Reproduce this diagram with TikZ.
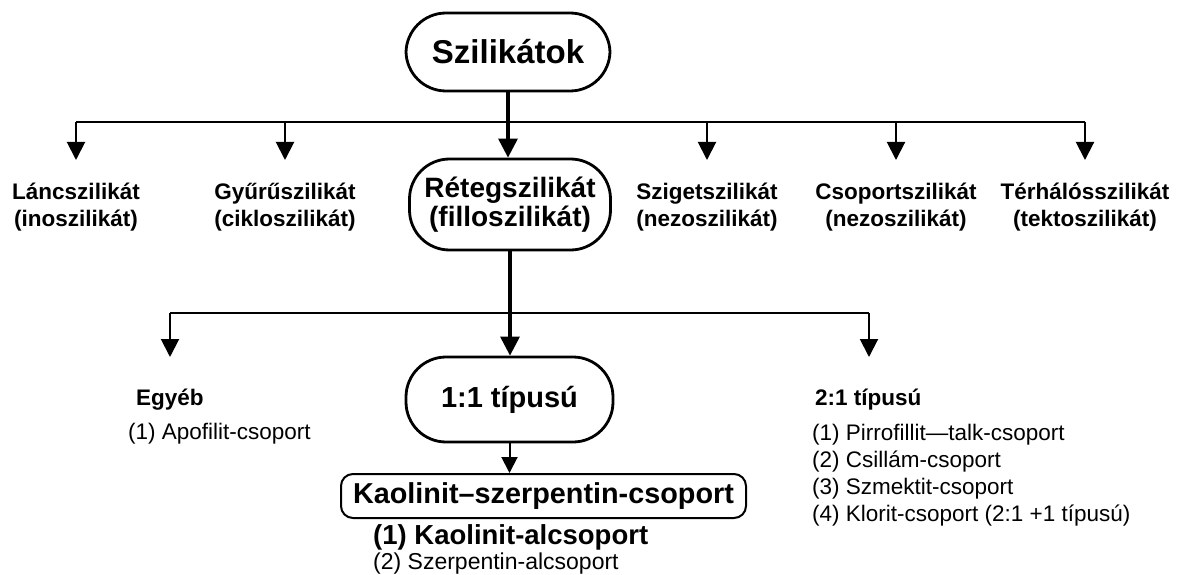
\documentclass[tikz,border=0pt]{standalone}
\usepackage{fontspec}
\setmainfont{Liberation Sans}
\usetikzlibrary{arrows.meta}

\begin{document}
\begin{tikzpicture}[x=1pt,y=1pt,yscale=-1,
  branch/.style={line width=2pt,-{Triangle[width=18pt,length=18pt]}},
  trunk/.style={line width=3.2pt,-{Triangle[width=19pt,length=19pt]}},
  pill/.style={draw,line width=2.8pt,rounded corners=40pt,inner sep=0pt,align=center},
  lbl/.style={inner sep=0pt,align=center,font=\fontsize{22.5}{27}\selectfont\bfseries},
  headtxt/.style={inner sep=0pt,anchor=base west,font=\fontsize{22.5}{27}\selectfont\bfseries},
  itemtxt/.style={inner sep=0pt,anchor=base west,font=\fontsize{22.5}{27}\selectfont}]
\useasboundingbox (0,0) rectangle (1181,575);
\def\ya{122}
\def\yb{160}
\def\yc{313}
\def\yd{357}

%level 0
\draw (508,52) node[pill,minimum width=204pt,minimum height=78pt,
  font=\fontsize{33}{36}\selectfont\bfseries] (szil) {Szilikátok};

%level 1
\draw (510,204.5) node[pill,minimum width=201pt,minimum height=91pt,
  font=\fontsize{28}{29}\selectfont\bfseries] (reteg) {Rétegszilikát\\(filloszilikát)};
% Text Node
\draw (76,207) node[lbl] (lanc) {Láncszilikát\\(inoszilikát)};
% Text Node
\draw (285,207) node[lbl] (gyuru) {Gyűrűszilikát\\(cikloszilikát)};
% Text Node
\draw (707,207) node[lbl] (sziget) {Szigetszilikát\\(nezoszilikát)};
% Text Node
\draw (896,207) node[lbl] (csop) {Csoportszilikát\\(nezoszilikát)};
% Text Node
\draw (1085,207) node[lbl] (terh) {Térhálósszilikát\\(tektoszilikát)};

%branch points
\coordinate (lancTop) at (76,\ya);
\coordinate (lancTip) at (76,\yb);
\coordinate (gyuruTop) at (285,\ya);
\coordinate (gyuruTip) at (285,\yb);
\coordinate (szigetTop) at (707,\ya);
\coordinate (szigetTip) at (707,\yb);
\coordinate (csopTop) at (896,\ya);
\coordinate (csopTip) at (896,\yb);
\coordinate (terhTop) at (1085,\ya);
\coordinate (terhTip) at (1085,\yb);

%Straight Lines
\draw[line width=2pt] (lancTop) -- (terhTop);
\draw[trunk] (szil.south) -- (szil.south |- reteg.north);
\draw[branch] (lancTop) -- (lancTip);
\draw[branch] (gyuruTop) -- (gyuruTip);
\draw[branch] (szigetTop) -- (szigetTip);
\draw[branch] (csopTop) -- (csopTip);
\draw[branch] (terhTop) -- (terhTip);

%level 2
\draw (509.5,399.5) node[pill,minimum width=207pt,minimum height=85pt,
  font=\fontsize{29}{32}\selectfont\bfseries] (tipA) {1:1 típusú};
\coordinate (egyTop) at (170,\yc);
\coordinate (egyTip) at (170,\yd);
\coordinate (tipBTop) at (869,\yc);
\coordinate (tipBTip) at (869,\yd);

%Straight Lines
\draw[line width=2pt] (egyTop) -- (tipBTop);
\draw[trunk] (reteg.south) -- (reteg.south |- tipA.north);
\draw[branch] (egyTop) -- (egyTip);
\draw[branch] (tipBTop) -- (tipBTip);

% Text Node
\draw (136,405) node[headtxt] (egyeb) {Egyéb};
\draw (128,439) node[itemtxt] (apof) {(1) Apofilit-csoport};

% Text Node
\draw (815,405) node[headtxt] (tipB) {2:1 típusú};
\draw (812,440) node[itemtxt] (pirro) {(1) Pirrofillit---talk-csoport};
\draw (812,467) node[itemtxt] (csill) {(2) Csillám-csoport};
\draw (812,494) node[itemtxt] (szmek) {(3) Szmektit-csoport};
\draw (812,521) node[itemtxt] (klor) {(4) Klorit-csoport (2:1 +1 típusú)};

%level 3
\draw (543.5,496) node[draw,line width=2pt,rounded corners=12pt,inner sep=0pt,
  minimum width=405pt,minimum height=44pt,
  font=\fontsize{28.8}{31}\selectfont\bfseries] (kaol) {Kaolinit--szerpentin-csoport};
\draw[line width=2pt,-{Triangle[width=16pt,length=16pt]}] (tipA.south) -- (tipA.south |- kaol.north);
% Text Node
\draw (373,544) node[inner sep=0pt,anchor=base west,
  font=\fontsize{27.5}{30}\selectfont\bfseries] (kaolA) {(1) Kaolinit-alcsoport};
\draw (373,569) node[inner sep=0pt,anchor=base west,
  font=\fontsize{23}{27}\selectfont] (kaolB) {(2) Szerpentin-alcsoport};
\end{tikzpicture}
\end{document}
